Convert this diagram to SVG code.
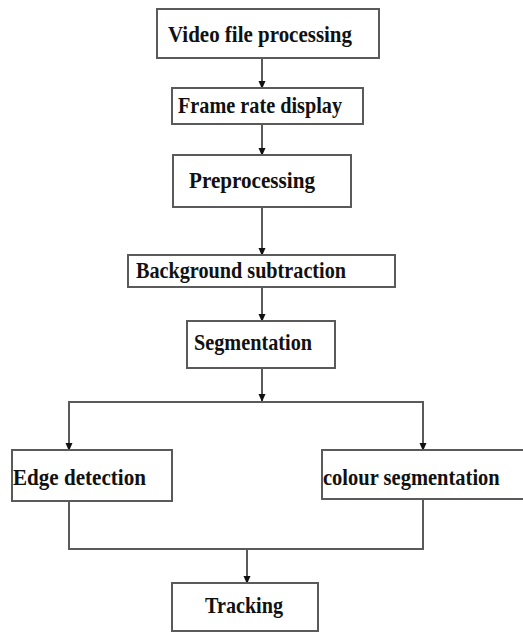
<svg xmlns="http://www.w3.org/2000/svg" width="523" height="633" viewBox="0 0 523 633">
<style>
.box{fill:#fff;stroke:#5a5a5a;stroke-width:2}
.lbl{font-family:"Liberation Serif","Times New Roman",serif;font-weight:bold;font-size:24px;fill:#111}
.ln{fill:none;stroke:#5a5a5a;stroke-width:2}
</style>
<defs>
<marker id="ah" markerWidth="8" markerHeight="8" refX="7" refY="4" orient="auto" markerUnits="userSpaceOnUse">
<path d="M0,0.5 L8,4 L0,7.5 Z" fill="#111"/>
</marker>
</defs>
<rect width="523" height="633" fill="#fff"/>
<g id="connectors">
<line class="ln" x1="262" y1="58" x2="262" y2="88" marker-end="url(#ah)"/>
<line class="ln" x1="262" y1="124" x2="262" y2="155" marker-end="url(#ah)"/>
<line class="ln" x1="262" y1="207" x2="262" y2="255" marker-end="url(#ah)"/>
<line class="ln" x1="262" y1="287" x2="262" y2="321" marker-end="url(#ah)"/>
<line class="ln" x1="262" y1="368" x2="262" y2="401" marker-end="url(#ah)"/>
<polyline class="ln" points="69,450 69,402 423,402 423,450"/>
<line class="ln" x1="69" y1="420" x2="69" y2="450" marker-end="url(#ah)"/>
<line class="ln" x1="423" y1="420" x2="423" y2="450" marker-end="url(#ah)"/>
<polyline class="ln" points="69,501 69,549 423,549 423,499"/>
<line class="ln" x1="247" y1="549" x2="247" y2="583" marker-end="url(#ah)"/>
</g>
<g id="video">
<rect class="box" x="157" y="9" width="222" height="49"/>
<text class="lbl" x="168" y="42" textLength="184" lengthAdjust="spacingAndGlyphs">Video file processing</text>
</g>
<g id="frame">
<rect class="box" x="172" y="88" width="191" height="36"/>
<text class="lbl" x="178" y="113" textLength="164" lengthAdjust="spacingAndGlyphs">Frame rate display</text>
</g>
<g id="preprocessing">
<rect class="box" x="173" y="155" width="178" height="52"/>
<text class="lbl" x="189" y="188" textLength="126" lengthAdjust="spacingAndGlyphs">Preprocessing</text>
</g>
<g id="background">
<rect class="box" x="128" y="255" width="267" height="32"/>
<text class="lbl" x="136" y="278" textLength="210" lengthAdjust="spacingAndGlyphs">Background subtraction</text>
</g>
<g id="segmentation">
<rect class="box" x="187" y="321" width="148" height="47"/>
<text class="lbl" x="194" y="350" textLength="118" lengthAdjust="spacingAndGlyphs">Segmentation</text>
</g>
<g id="edge">
<rect class="box" x="12" y="450" width="160" height="51"/>
<text class="lbl" x="13" y="485" textLength="133" lengthAdjust="spacingAndGlyphs">Edge detection</text>
</g>
<g id="colour">
<rect class="box" x="322" y="450" width="203" height="49"/>
<text class="lbl" transform="translate(323,485) scale(0.855,1)">colour segmentation</text>
</g>
<g id="tracking">
<rect class="box" x="172" y="583" width="146" height="48"/>
<text class="lbl" x="205" y="613" textLength="78" lengthAdjust="spacingAndGlyphs">Tracking</text>
</g>
</svg>
